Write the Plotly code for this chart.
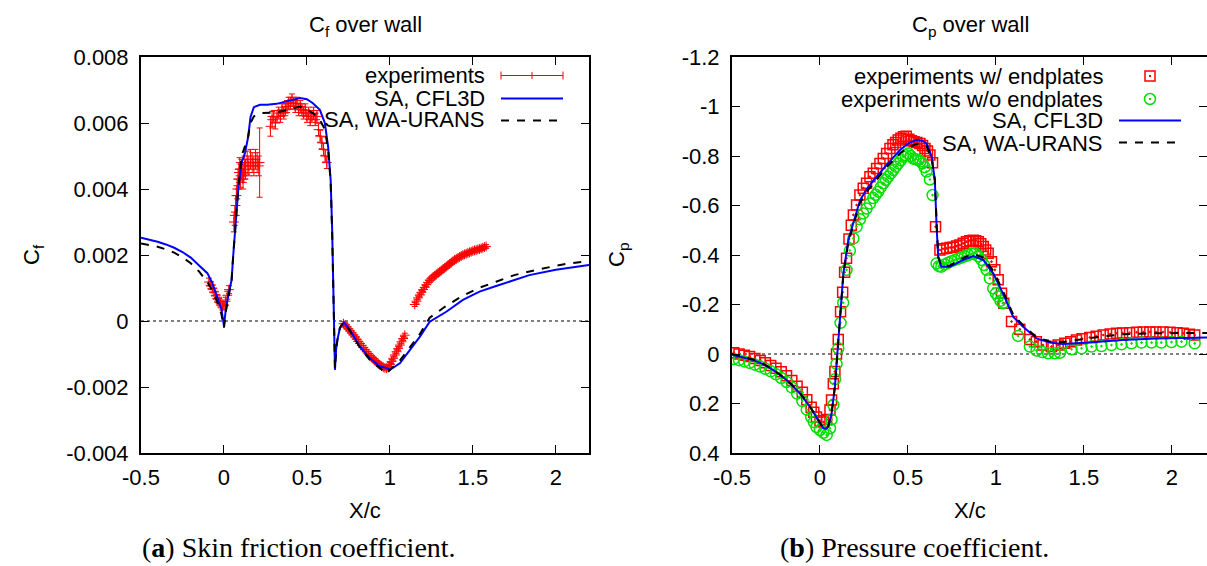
import plotly.graph_objects as go

W, H = 1207, 566

# ---------------- Skin friction data (left) ----------------
cf_exp_x = [-0.09, -0.08, -0.07, -0.06, -0.05, -0.04, -0.03, -0.02, -0.01, 0.0, 0.01, 0.02, 0.03,
            0.06, 0.065, 0.07, 0.075, 0.08, 0.085, 0.09, 0.095, 0.10, 0.105, 0.11, 0.115, 0.12, 0.125,
            0.13, 0.14, 0.15, 0.16, 0.17, 0.18, 0.19, 0.20, 0.21, 0.215,
            0.28, 0.29, 0.30, 0.31, 0.32, 0.33, 0.34, 0.35, 0.36, 0.37, 0.38, 0.39, 0.40, 0.41, 0.42,
            0.43, 0.44, 0.45, 0.46, 0.47, 0.48, 0.49, 0.50, 0.51, 0.52, 0.53, 0.54, 0.55, 0.56, 0.57,
            0.58, 0.59, 0.60, 0.61, 0.62,
            0.72, 0.73, 0.74, 0.75, 0.76, 0.77, 0.78, 0.79, 0.80, 0.81, 0.82, 0.83, 0.84, 0.85, 0.86,
            0.87, 0.88, 0.89, 0.90, 0.91, 0.92, 0.93, 0.94, 0.95, 0.96, 0.97, 0.98, 0.99, 1.00, 1.01,
            1.02, 1.03, 1.04, 1.05, 1.06, 1.07, 1.08, 1.09,
            1.15, 1.16, 1.17, 1.18, 1.19, 1.20, 1.21, 1.22, 1.23, 1.24, 1.25, 1.26, 1.27, 1.28, 1.29,
            1.30, 1.31, 1.32, 1.33, 1.34, 1.35, 1.36, 1.37, 1.38, 1.39, 1.40, 1.41, 1.42, 1.43, 1.44,
            1.45, 1.46, 1.47, 1.48, 1.49, 1.50, 1.51, 1.52, 1.53, 1.54, 1.55, 1.56, 1.57, 1.58]
cf_exp_y = [0.00118, 0.00108, 0.00098, 0.00088, 0.00078, 0.00068, 0.0006, 0.00052, 0.00045, 0.00048,
            0.0006, 0.00078, 0.00095,
            0.0030, 0.0032, 0.0035, 0.0038, 0.0040, 0.0043, 0.0045, 0.0046, 0.0044, 0.0046, 0.0045,
            0.0043, 0.0045, 0.0047, 0.0046, 0.0048, 0.0047, 0.0049, 0.0048, 0.0047, 0.0049, 0.0048,
            0.0047, 0.0048,
            0.0059, 0.0061, 0.0062, 0.0060, 0.0062, 0.0063, 0.0062, 0.0064, 0.0063, 0.0064, 0.0065,
            0.0066, 0.0066, 0.0067, 0.0066, 0.0065, 0.0066, 0.0064, 0.0065, 0.0064, 0.0063, 0.0064,
            0.0062, 0.0063, 0.0061, 0.0062, 0.0063, 0.0061, 0.0062, 0.0058, 0.0056, 0.0054, 0.0052,
            0.0050, 0.0048,
            -0.00008, -0.00012, -0.00018, -0.00024, -0.0003, -0.00036, -0.00042, -0.00048, -0.00055,
            -0.00062, -0.00068, -0.00074, -0.0008, -0.00087, -0.00093, -0.00099, -0.00105, -0.0011,
            -0.00115, -0.0012, -0.00125, -0.00129, -0.00133, -0.00137, -0.0014, -0.00142, -0.00143,
            -0.0014, -0.00132, -0.00123, -0.00113, -0.00103, -0.00093, -0.00083, -0.00073, -0.00063,
            -0.00053, -0.00043,
            0.00050, 0.00060, 0.00070, 0.00079, 0.00087, 0.00095, 0.00102, 0.00110, 0.00117, 0.00124,
            0.00128, 0.00133, 0.00137, 0.00141, 0.00145, 0.00149, 0.00153, 0.00157, 0.00161, 0.00165,
            0.00169, 0.00173, 0.00177, 0.00181, 0.00185, 0.00188, 0.00191, 0.00194, 0.00197, 0.00200,
            0.00202, 0.00204, 0.00206, 0.00208, 0.00210, 0.00212, 0.00214, 0.00215, 0.00217, 0.00218,
            0.00220, 0.00222, 0.00224, 0.00226]
cf_exp_err = ([0.00012] * 13 +
              [0.0003, 0.0003, 0.0003, 0.0003, 0.0003, 0.0003, 0.0003, 0.00035, 0.00035, 0.0003,
               0.0003, 0.0003, 0.0003, 0.0003, 0.0003, 0.00035, 0.0003, 0.0003, 0.0003, 0.0003,
               0.0003, 0.0003, 0.0003, 0.00105] +
              [0.0003, 0.00025] + [0.00018] * 33 +
              [0.00006] * 38 +
              [0.00006] * 44)

sa_cfl3d_cf_x = [-0.5, -0.45, -0.4, -0.35, -0.3, -0.25, -0.2, -0.15, -0.1, -0.07, -0.05, -0.03, -0.015,
                 0.0, 0.01, 0.025, 0.046, 0.056, 0.066, 0.076, 0.086, 0.096, 0.106, 0.127, 0.146,
                 0.16, 0.18, 0.217, 0.26, 0.317, 0.37, 0.42, 0.458, 0.5, 0.536, 0.578, 0.608, 0.628,
                 0.643, 0.652, 0.658, 0.665, 0.669, 0.676, 0.683, 0.699, 0.723, 0.759, 0.819, 0.88,
                 0.94, 0.96, 0.98, 1.0, 1.06, 1.12, 1.18, 1.24, 1.34, 1.44, 1.54, 1.64, 1.84, 2.0, 2.2]
sa_cfl3d_cf = [0.00252, 0.00247, 0.00240, 0.00232, 0.00222, 0.00209, 0.00192, 0.00168, 0.00145,
               0.00115, 0.00088, 0.0006, 0.00035, -0.00015, 0.00030, 0.00075, 0.00124, 0.0020,
               0.00276, 0.0034, 0.00397, 0.0044, 0.00479, 0.0051, 0.00558, 0.00618, 0.00648,
               0.00655, 0.00655, 0.00658, 0.00665, 0.00672, 0.00676, 0.00672, 0.0066, 0.0064,
               0.006, 0.00527, 0.00427, 0.00276, 0.00124, -0.0006, -0.00148, -0.00085, -0.00058,
               -0.00021, -0.00005, -0.00027, -0.00078, -0.00113, -0.00138, -0.0014, -0.00142,
               -0.00148, -0.00128, -0.00088, -0.00048, -0.00002, 0.00028, 0.00064, 0.00089,
               0.00106, 0.00139, 0.00155, 0.0017]

sa_wa_cf_x = [-0.5, -0.45, -0.4, -0.35, -0.3, -0.25, -0.2, -0.15, -0.1, -0.07, -0.05, -0.03, -0.015,
              0.0, 0.01, 0.025, 0.046, 0.056, 0.066, 0.076, 0.086, 0.096, 0.106, 0.127, 0.146, 0.16,
              0.18, 0.217, 0.26, 0.317, 0.37, 0.42, 0.458, 0.5, 0.536, 0.578, 0.608, 0.628, 0.643,
              0.652, 0.658, 0.665, 0.669, 0.676, 0.683, 0.699, 0.723, 0.759, 0.819, 0.88, 0.94, 0.98,
              1.0, 1.06, 1.12, 1.18, 1.24, 1.331, 1.43, 1.53, 1.64, 1.75, 1.9, 2.05, 2.2]
sa_wa_cf = [0.00235, 0.00231, 0.00225, 0.00217, 0.00207, 0.00193, 0.00175, 0.00150, 0.00118, 0.00092,
            0.00070, 0.00045, 0.0002, -0.0002, 0.00025, 0.00072, 0.00124, 0.0020, 0.00276, 0.0034,
            0.0040, 0.0045, 0.0050, 0.0053, 0.0056, 0.0060, 0.0062, 0.0063, 0.0063, 0.00632,
            0.00638, 0.00645, 0.0065, 0.0064, 0.0063, 0.0061, 0.0058, 0.0052, 0.0042, 0.0027,
            0.0012, -0.0006, -0.00145, -0.0009, -0.0006, -0.0002, -0.00003, -0.0003, -0.0008,
            -0.00118, -0.00142, -0.0016, -0.00148, -0.0012, -0.0008, -0.0004, 0.0001, 0.00043,
            0.00074, 0.00099, 0.00119, 0.00139, 0.00157, 0.00172, 0.00182]

# ---------------- Pressure data (right) ----------------
cp_endpl_x = [-0.49, -0.46, -0.43, -0.40, -0.37, -0.34, -0.31, -0.28, -0.25, -0.22, -0.19, -0.16,
              -0.13, -0.10, -0.075, -0.05, -0.035, -0.02, 0.0, 0.02, 0.038, 0.057, 0.066, 0.076,
              0.085, 0.094, 0.104, 0.117, 0.129, 0.14, 0.151, 0.165, 0.178, 0.19, 0.208, 0.227,
              0.246, 0.265, 0.284, 0.303, 0.322, 0.341, 0.36, 0.379, 0.398, 0.415, 0.43, 0.445,
              0.46, 0.475, 0.49, 0.505, 0.52, 0.535, 0.55, 0.568, 0.583, 0.597, 0.611, 0.625, 0.64,
              0.657, 0.682, 0.70, 0.72, 0.74, 0.758, 0.777, 0.795, 0.814, 0.833, 0.852, 0.871,
              0.885, 0.9, 0.914, 0.928, 0.942, 0.956, 0.975, 0.994, 1.013, 1.032, 1.045, 1.089,
              1.136, 1.193, 1.23, 1.268, 1.316, 1.354, 1.392, 1.425, 1.458, 1.49, 1.534, 1.57,
              1.61, 1.65, 1.686, 1.72, 1.76, 1.8, 1.837, 1.875, 1.91, 1.95, 1.99, 2.03, 2.065,
              2.1, 2.13]
cp_endpl = [-0.005, 0.0, 0.005, 0.01, 0.018, 0.026, 0.035, 0.046, 0.058, 0.072, 0.088, 0.107, 0.13,
            0.155, 0.185, 0.215, 0.235, 0.255, 0.27, 0.275, 0.265, 0.226, 0.186, 0.12, 0.071, 0.0,
            -0.059, -0.171, -0.25, -0.33, -0.387, -0.465, -0.52, -0.562, -0.602, -0.642, -0.67,
            -0.69, -0.716, -0.73, -0.75, -0.77, -0.79, -0.81, -0.83, -0.845, -0.855, -0.865,
            -0.872, -0.878, -0.88, -0.868, -0.862, -0.858, -0.855, -0.851, -0.842, -0.83, -0.82,
            -0.804, -0.773, -0.514, -0.42, -0.425, -0.427, -0.43, -0.431, -0.436, -0.44, -0.447,
            -0.454, -0.458, -0.46, -0.458, -0.454, -0.445, -0.434, -0.42, -0.407, -0.373, -0.34,
            -0.30, -0.245, -0.205, -0.131, -0.10, -0.059, -0.05, -0.036, -0.03, -0.036, -0.043,
            -0.05, -0.057, -0.062, -0.067, -0.072, -0.077, -0.081, -0.084, -0.085, -0.086, -0.088,
            -0.089, -0.089, -0.089, -0.089, -0.088, -0.086, -0.084, -0.08, -0.077]

cp_noendpl_x = [-0.49, -0.46, -0.43, -0.40, -0.37, -0.34, -0.31, -0.28, -0.25, -0.22, -0.19, -0.16,
                -0.13, -0.10, -0.075, -0.05, -0.035, -0.02, 0.0, 0.02, 0.038, 0.057, 0.066, 0.076,
                0.085, 0.094, 0.104, 0.117, 0.132, 0.151, 0.17, 0.19, 0.208, 0.227, 0.246, 0.265,
                0.284, 0.303, 0.317, 0.331, 0.345, 0.36, 0.374, 0.388, 0.403, 0.417, 0.431, 0.445,
                0.459, 0.473, 0.487, 0.502, 0.516, 0.53, 0.544, 0.558, 0.571, 0.583, 0.595, 0.606,
                0.625, 0.64, 0.663, 0.676, 0.69, 0.71, 0.729, 0.748, 0.767, 0.786, 0.805, 0.824,
                0.843, 0.862, 0.881, 0.9, 0.918, 0.933, 0.947, 0.966, 0.985, 1.0, 1.013, 1.026,
                1.04, 1.126, 1.193, 1.231, 1.264, 1.297, 1.335, 1.364, 1.43, 1.487, 1.544, 1.6,
                1.657, 1.714, 1.771, 1.828, 1.885, 1.94, 1.998, 2.055, 2.13]
cp_noendpl = [0.02, 0.025, 0.03, 0.036, 0.043, 0.051, 0.06, 0.07, 0.082, 0.097, 0.113, 0.135, 0.16,
              0.19, 0.225, 0.255, 0.275, 0.295, 0.307, 0.318, 0.327, 0.30, 0.265, 0.206, 0.102,
              0.04, -0.023, -0.126, -0.207, -0.34, -0.418, -0.467, -0.514, -0.544, -0.568, -0.588,
              -0.608, -0.63, -0.643, -0.656, -0.673, -0.69, -0.703, -0.716, -0.73, -0.743, -0.757,
              -0.77, -0.783, -0.797, -0.803, -0.81, -0.80, -0.79, -0.787, -0.784, -0.778, -0.77,
              -0.755, -0.737, -0.705, -0.642, -0.366, -0.355, -0.353, -0.362, -0.369, -0.375,
              -0.38, -0.385, -0.39, -0.395, -0.40, -0.405, -0.407, -0.395, -0.38, -0.36, -0.34,
              -0.306, -0.265, -0.245, -0.232, -0.215, -0.205, -0.073, -0.03, -0.014, -0.008,
              -0.003, -0.003, -0.005, -0.019, -0.023, -0.03, -0.032, -0.036, -0.039, -0.043,
              -0.046, -0.046, -0.046, -0.048, -0.05, -0.043]

sa_cfl3d_cp_x = [-0.5, -0.44, -0.38, -0.32, -0.265, -0.19, -0.114, -0.057, -0.01, 0.019, 0.035,
                 0.047, 0.066, 0.085, 0.099, 0.114, 0.133, 0.161, 0.199, 0.227, 0.265, 0.303,
                 0.379, 0.455, 0.5, 0.549, 0.58, 0.606, 0.635, 0.653, 0.663, 0.672, 0.69, 0.739,
                 0.814, 0.871, 0.928, 0.985, 1.04, 1.098, 1.155, 1.231, 1.307, 1.38, 1.53, 1.72,
                 1.91, 2.2]
sa_cfl3d_cp = [0.003, 0.012, 0.024, 0.042, 0.065, 0.105, 0.159, 0.213, 0.267, 0.30, 0.302, 0.294,
               0.24, 0.132, -0.003, -0.15, -0.326, -0.46, -0.555, -0.62, -0.665, -0.70, -0.764,
               -0.824, -0.85, -0.865, -0.862, -0.851, -0.797, -0.703, -0.514, -0.393, -0.353,
               -0.353, -0.38, -0.396, -0.38, -0.326, -0.245, -0.151, -0.11, -0.063, -0.046, -0.04,
               -0.046, -0.057, -0.063, -0.067]

sa_wa_cp_x = sa_cfl3d_cp_x
sa_wa_cp = [0.0, 0.01, 0.022, 0.04, 0.063, 0.103, 0.157, 0.212, 0.267, 0.30, 0.302, 0.294, 0.24,
            0.132, -0.003, -0.15, -0.32, -0.45, -0.545, -0.61, -0.655, -0.69, -0.755, -0.81,
            -0.835, -0.848, -0.848, -0.84, -0.79, -0.70, -0.514, -0.393, -0.355, -0.358, -0.388,
            -0.405, -0.39, -0.336, -0.255, -0.16, -0.115, -0.068, -0.05, -0.048, -0.064, -0.08,
            -0.084, -0.085]

x_ticks = [-0.5, 0, 0.5, 1, 1.5, 2]
x_ticktext = ["-0.5", "0", "0.5", "1", "1.5", "2"]
cf_ticks = [-0.004, -0.002, 0, 0.002, 0.004, 0.006, 0.008]
cf_ticktext = ["-0.004", "-0.002", "0", "0.002", "0.004", "0.006", "0.008"]
cp_ticks = [-1.2, -1, -0.8, -0.6, -0.4, -0.2, 0, 0.2, 0.4]
cp_ticktext = ["-1.2", "-1", "-0.8", "-0.6", "-0.4", "-0.2", "0", "0.2", "0.4"]

RED, GREEN, BLUE = "#ff0000", "#00e000", "#0000ff"
FONT = "Liberation Sans, Arial, sans-serif"
SERIF = "Liberation Serif, Times New Roman, serif"
DASH = "8px,8px"


def px(x):
    return x / W


def py(y):
    return 1 - y / H


fig = go.Figure()

# Left plot traces
fig.add_trace(go.Scatter(
    x=cf_exp_x, y=cf_exp_y, mode="markers", xaxis="x", yaxis="y", name="experiments",
    marker=dict(symbol="cross-thin", size=7, line=dict(color=RED, width=1), color=RED),
    error_y=dict(type="data", array=cf_exp_err, visible=True, color=RED, thickness=1, width=3)))
fig.add_trace(go.Scatter(x=sa_cfl3d_cf_x, y=sa_cfl3d_cf, mode="lines", xaxis="x", yaxis="y",
                         name="SA, CFL3D", line=dict(color=BLUE, width=2)))
fig.add_trace(go.Scatter(x=sa_wa_cf_x, y=sa_wa_cf, mode="lines", xaxis="x", yaxis="y",
                         name="SA, WA-URANS", line=dict(color="black", width=2, dash=DASH)))

# Right plot traces
fig.add_trace(go.Scatter(x=cp_endpl_x, y=cp_endpl, mode="markers", xaxis="x2", yaxis="y2",
                         name="experiments w/ endplates",
                         marker=dict(symbol="square-open-dot", size=10, color=RED,
                                     line=dict(color=RED, width=1.5))))
fig.add_trace(go.Scatter(x=cp_noendpl_x, y=cp_noendpl, mode="markers", xaxis="x2", yaxis="y2",
                         name="experiments w/o endplates",
                         marker=dict(symbol="circle-open-dot", size=11, color=GREEN,
                                     line=dict(color=GREEN, width=1.5))))
fig.add_trace(go.Scatter(x=sa_cfl3d_cp_x, y=sa_cfl3d_cp, mode="lines", xaxis="x2", yaxis="y2",
                         name="SA, CFL3D", line=dict(color=BLUE, width=2)))
fig.add_trace(go.Scatter(x=sa_wa_cp_x, y=sa_wa_cp, mode="lines", xaxis="x2", yaxis="y2",
                         name="SA, WA-URANS", line=dict(color="black", width=2, dash=DASH)))

axis_common = dict(showline=True, linecolor="black", linewidth=2, mirror="ticks",
                   ticks="inside", ticklen=8, tickwidth=1, tickcolor="black", automargin=False,
                   showgrid=False, zeroline=False, tickfont=dict(family=FONT, size=22, color="black"))

ydom = [py(453), py(57)]
fig.update_layout(
    width=W, height=H, autosize=False, showlegend=False,
    margin=dict(l=0, r=0, t=0, b=0, pad=0, autoexpand=False),
    paper_bgcolor="white", plot_bgcolor="white",
    xaxis=dict(domain=[px(141), px(589)], range=[-0.5, 2.2], anchor="y",
               tickvals=x_ticks, ticktext=x_ticktext, ticklabelstandoff=4, **axis_common),
    yaxis=dict(domain=ydom, range=[-0.004, 0.008], anchor="x",
               tickvals=cf_ticks, ticktext=cf_ticktext, ticklabelstandoff=6, **axis_common),
    xaxis2=dict(domain=[px(732), 1.0], range=[-0.5, 2.2], anchor="y2",
                tickvals=x_ticks, ticktext=x_ticktext, ticklabelstandoff=4, **axis_common),
    yaxis2=dict(domain=ydom, range=[0.4, -1.2], anchor="x2",
                tickvals=cp_ticks, ticktext=cp_ticktext, ticklabelstandoff=6, **axis_common),
)

shapes = []
# dotted zero axes
shapes.append(dict(type="line", xref="x domain", yref="y", x0=0, x1=1, y0=0, y1=0,
                   line=dict(color="black", width=1, dash="dot"), layer="below"))
shapes.append(dict(type="line", xref="x2 domain", yref="y2", x0=0, x1=1, y0=0, y1=0,
                   line=dict(color="black", width=1, dash="dot"), layer="below"))


def pline(x0, y0, x1, y1, color, width=1, dash="solid"):
    shapes.append(dict(type="line", xref="paper", yref="paper", x0=px(x0), y0=py(y0),
                       x1=px(x1), y1=py(y1), line=dict(color=color, width=width, dash=dash)))


# left legend samples
pline(501, 75.5, 563, 75.5, RED)
pline(501, 71.5, 501, 79.5, RED)
pline(563, 71.5, 563, 79.5, RED)
pline(528.5, 75.5, 535.5, 75.5, RED)
pline(532, 72, 532, 79, RED)
pline(501, 98.5, 563, 98.5, BLUE, 2)
pline(501, 120.5, 563, 120.5, "black", 2, DASH)

# right legend samples
shapes.append(dict(type="rect", xref="paper", yref="paper", x0=px(1145), y0=py(71), x1=px(1155),
                   y1=py(81), line=dict(color=RED, width=1.5)))
shapes.append(dict(type="rect", xref="paper", yref="paper", x0=px(1149), y0=py(75), x1=px(1151),
                   y1=py(77), line=dict(width=0), fillcolor=RED))
shapes.append(dict(type="circle", xref="paper", yref="paper", x0=px(1144.5), y0=py(93.5),
                   x1=px(1155.5), y1=py(104.5), line=dict(color=GREEN, width=1.5)))
shapes.append(dict(type="rect", xref="paper", yref="paper", x0=px(1149), y0=py(98), x1=px(1151),
                   y1=py(100), line=dict(width=0), fillcolor=GREEN))
pline(1119, 120.5, 1181, 120.5, BLUE, 2)
pline(1119, 142.5, 1181, 142.5, "black", 2, DASH)

fig.update_layout(shapes=shapes)

ann = []


def text(x, y, s, xanchor="center", size=22, family=FONT, angle=0):
    ann.append(dict(xref="paper", yref="paper", x=px(x), y=py(y), text=s, showarrow=False,
                    xanchor=xanchor, yanchor="middle", textangle=angle,
                    font=dict(family=family, size=size, color="black")))


text(365, 26, "C<sub>f</sub> over wall")
text(970, 26, "C<sub>p</sub> over wall")
text(365, 510, "X/c")
text(970, 510, "X/c")
text(33, 255, "C<sub>f</sub>", angle=-90)
text(618, 255, "C<sub>p</sub>", angle=-90)
text(487, 75, "experiments", "right")
text(487, 98, "SA, CFL3D", "right")
text(487, 120, "SA, WA-URANS", "right")
text(1105, 76, "experiments w/ endplates", "right")
text(1105, 99, "experiments w/o endplates", "right")
text(1105, 121, "SA, CFL3D", "right")
text(1105, 143, "SA, WA-URANS", "right")
text(140, 547, "(<b>a</b>) Skin friction coefficient.", "left", 28, SERIF)
text(778, 547, "(<b>b</b>) Pressure coefficient.", "left", 28, SERIF)
fig.update_layout(annotations=ann)

fig.write_html(
    "out.html",
    config={"displayModeBar": False},
    post_script="document.body.style.margin='0px';document.body.style.padding='0px';"
                "document.body.style.overflow='hidden';")
